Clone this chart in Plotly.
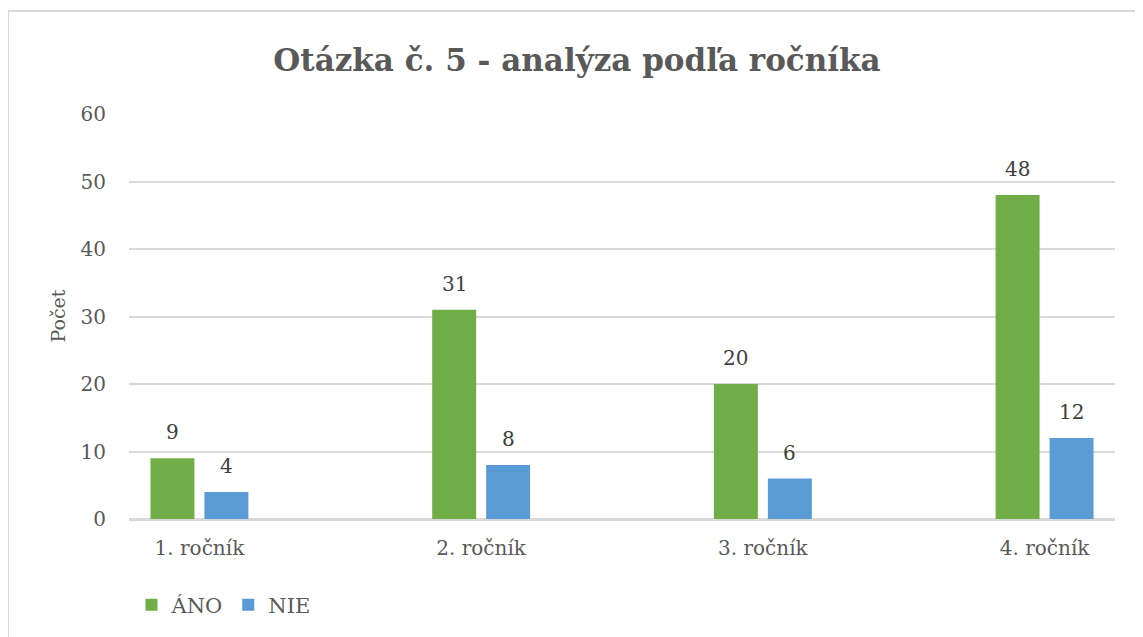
import plotly.graph_objects as go

categories = ["1. ročník", "2. ročník", "3. ročník", "4. ročník"]
ano_values = [9, 31, 20, 48]
nie_values = [4, 8, 6, 12]
y_ticks = [0, 10, 20, 30, 40, 50, 60]

FONT = "DejaVu Serif"
GREEN = "#70AD47"
BLUE = "#5B9BD5"
GRAY = "#595959"

fig = go.Figure()
fig.add_trace(go.Bar(name="ÁNO", x=categories, y=ano_values, marker=dict(color=GREEN, line=dict(width=0))))
fig.add_trace(go.Bar(name="NIE", x=categories, y=nie_values, marker=dict(color=BLUE, line=dict(width=0))))

# data labels
off = 27 / 282
for i, (a, n) in enumerate(zip(ano_values, nie_values)):
    for xv, val in ((i - off, a), (i + off, n)):
        fig.add_annotation(x=xv, y=val, xref="x", yref="y", text=str(val), showarrow=False,
                           yanchor="bottom", yshift=12,
                           font=dict(family=FONT, size=20, color="#404040"))

# y axis title
fig.add_annotation(x=(57 - 129) / 986, y=0.5, xref="paper", yref="paper", text="Počet",
                   textangle=-90, showarrow=False, xanchor="center", yanchor="middle",
                   font=dict(family=FONT, size=19, color=GRAY))

# chart border (top and left edges visible)
fig.add_shape(type="line", xref="paper", yref="paper",
              x0=(8 - 129) / 986, x1=(1150 - 129) / 986,
              y0=(519 - 11) / 405, y1=(519 - 11) / 405,
              line=dict(color="#D9D9D9", width=2))
fig.add_shape(type="line", xref="paper", yref="paper",
              x0=(8 - 129) / 986, x1=(8 - 129) / 986,
              y0=(519 - 11) / 405, y1=(519 - 660) / 405,
              line=dict(color="#D9D9D9", width=2))

fig.update_layout(
    width=1143, height=637,
    margin=dict(l=121, r=36, t=106, b=126),
    paper_bgcolor="white", plot_bgcolor="white",
    barmode="group", bargap=0.617, bargroupgap=0.185,
    title=dict(text="<b>Otázka č. 5 - analýza podľa ročníka</b>", x=569 / 1143, xanchor="center",
               y=1 - 52 / 637, yanchor="middle",
               font=dict(family=FONT, size=31, color=GRAY)),
    font=dict(family=FONT, color=GRAY),
    showlegend=True,
    legend=dict(orientation="h", x=2.5 / 986, xanchor="left", y=-0.2125, yanchor="middle",
                font=dict(family=FONT, size=21, color=GRAY), itemwidth=30,
                bgcolor="rgba(0,0,0,0)"),
    xaxis=dict(type="category", range=[-0.25, 3.25], showgrid=False, showline=True,
               linecolor="#D9D9D9", linewidth=1.5, ticks="", ticklabelstandoff=10,
               tickfont=dict(family=FONT, size=20, color=GRAY)),
    yaxis=dict(range=[0, 60], tickvals=y_ticks, showgrid=True, gridcolor="#D9D9D9", gridwidth=1.5,
               zeroline=True, zerolinecolor="#D9D9D9", zerolinewidth=1.5, showline=False,
               ticks="", ticklabelstandoff=22,
               tickfont=dict(family=FONT, size=20, color=GRAY)),
)

fig.write_html("out.html")
